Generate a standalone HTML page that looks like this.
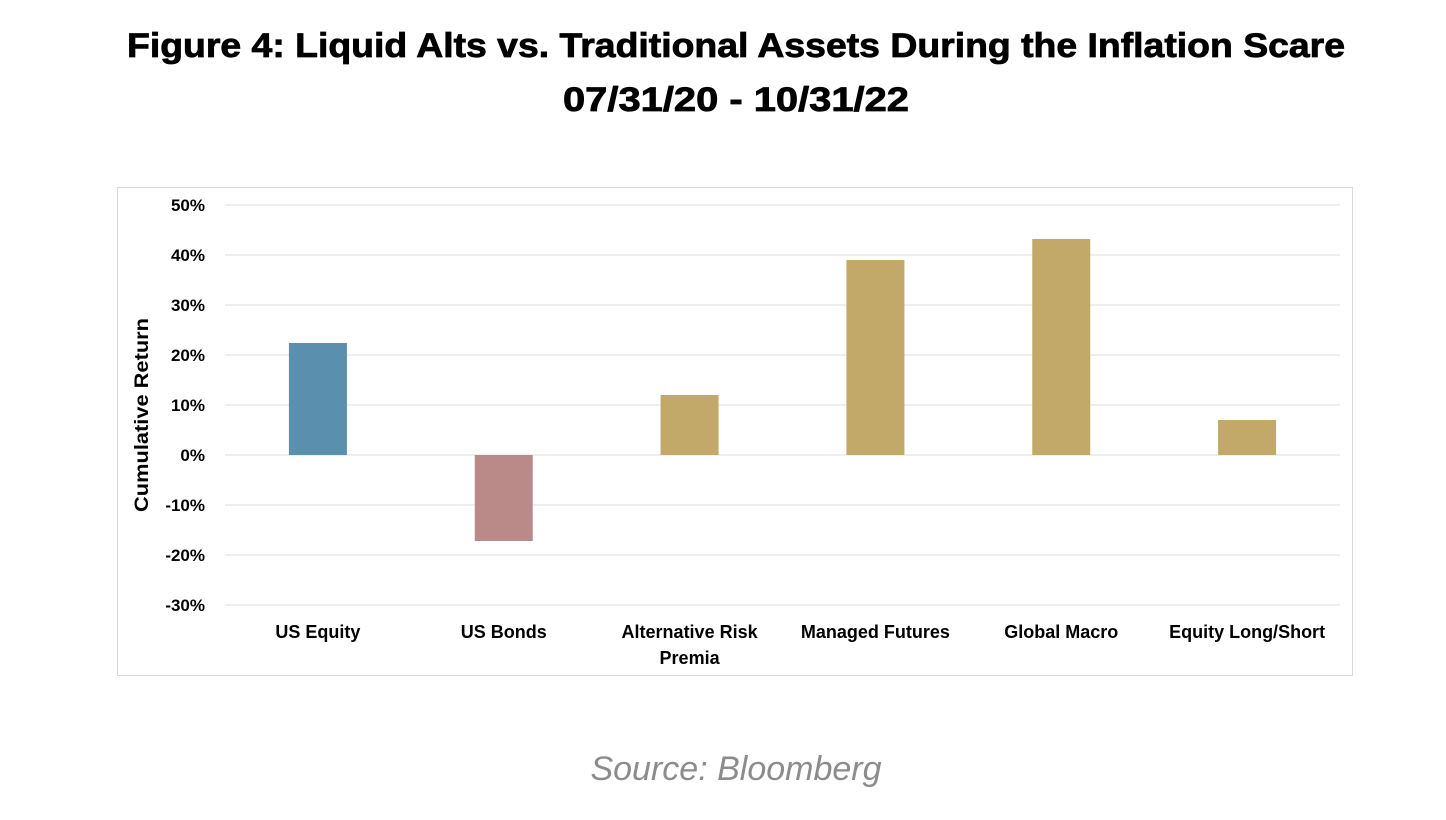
<!DOCTYPE html>
<html><head><meta charset="utf-8"><style>
html,body{margin:0;padding:0;background:#fff;}
svg{display:block;font-family:"Liberation Sans",sans-serif;}
</style></head><body>
<svg id="chart" width="1446" height="820" viewBox="0 0 1446 820">
<text x="736" y="57" text-anchor="middle" font-size="34" font-weight="bold" stroke="#000" stroke-width="0.8" textLength="1218" lengthAdjust="spacingAndGlyphs">Figure 4: Liquid Alts vs. Traditional Assets During the Inflation Scare</text>
<text x="736" y="111" text-anchor="middle" font-size="34" font-weight="bold" stroke="#000" stroke-width="0.8" textLength="346" lengthAdjust="spacingAndGlyphs">07/31/20 - 10/31/22</text>
<rect x="117.5" y="187.5" width="1235" height="488" fill="#fff" stroke="#d9d9d9"/>
<g id="grid"></g>
<g id="bars"></g>
<g id="xlabels"></g>
<text transform="translate(148,415) rotate(-90)" text-anchor="middle" font-size="19" font-weight="bold" textLength="194" lengthAdjust="spacingAndGlyphs">Cumulative Return</text>
<text x="736" y="780" text-anchor="middle" font-size="34" font-style="italic" fill="#8c8c8c">Source: Bloomberg</text>
</svg>
<script>
const categories = ["US Equity","US Bonds","Alternative Risk|Premia","Managed Futures","Global Macro","Equity Long/Short"];
const values = [22.4, -17.2, 12, 39, 43.2, 7];
const colors = ["#5a8fad","#b98a88","#c2a96a","#c2a96a","#c2a96a","#c2a96a"];
const ticks = [50,40,30,20,10,0,-10,-20,-30];
const NS="http://www.w3.org/2000/svg";
const plotX0=225,plotX1=1340,yMin=-30,yMax=50,plotTop=205,plotBot=605;
const yScale=v=>plotTop+(yMax-v)/(yMax-yMin)*(plotBot-plotTop);
const step=(plotX1-plotX0)/categories.length;
const xc=i=>plotX0+step*(i+0.5);
const grid=document.getElementById('grid');
ticks.forEach(t=>{
  const l=document.createElementNS(NS,'line');
  l.setAttribute('x1',plotX0);l.setAttribute('x2',plotX1);l.setAttribute('y1',yScale(t));l.setAttribute('y2',yScale(t));
  l.setAttribute('stroke','#e3e3e3');l.setAttribute('stroke-width','1.3');
  
  
  grid.appendChild(l);
  const tx=document.createElementNS(NS,'text');
  tx.setAttribute('x',205);tx.setAttribute('y',yScale(t)+6);tx.setAttribute('text-anchor','end');
  tx.setAttribute('font-size','17');tx.setAttribute('font-weight','bold');
  tx.textContent=t+'%';
  
  
  grid.appendChild(tx);
});
const barsG=document.getElementById('bars');
const xl=document.getElementById('xlabels');
const bw=58;
values.forEach((v,i)=>{
  const r=document.createElementNS(NS,'rect');
  r.setAttribute('x',xc(i)-bw/2);r.setAttribute('width',bw);
  r.setAttribute('y',Math.min(yScale(v),yScale(0)));r.setAttribute('height',Math.abs(yScale(v)-yScale(0)));
  r.setAttribute('fill',colors[i]);
  
  
  barsG.appendChild(r);
  categories[i].split('|').forEach((line,k)=>{
    const t=document.createElementNS(NS,'text');
    t.setAttribute('x',xc(i));t.setAttribute('y',638+k*26);t.setAttribute('text-anchor','middle');
    t.setAttribute('font-size','18');t.setAttribute('font-weight','bold');
    t.textContent=line;
    
    
    xl.appendChild(t);
  });
});
</script>
</body></html>
